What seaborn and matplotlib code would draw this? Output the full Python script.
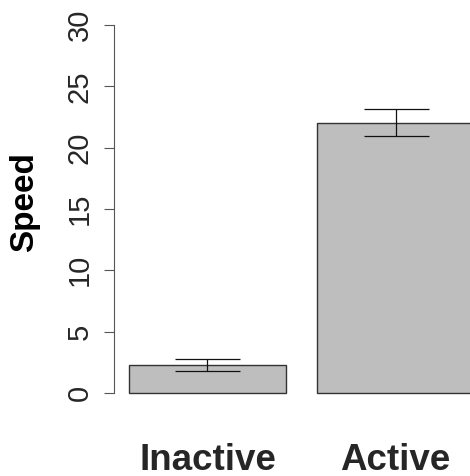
import matplotlib
matplotlib.use("Agg")
import matplotlib.pyplot as plt
import seaborn as sns
import pandas as pd

categories = ["Inactive", "Active"]
speed_mean = [2.28, 22.05]
speed_err = [0.49, 1.1]
y_ticks = [0, 5, 10, 15, 20, 25, 30]

sns.set_style("white")
plt.rcParams["font.family"] = ["Liberation Sans", "DejaVu Sans"]

W, H = 470, 476
fig = plt.figure(figsize=(W / 100, H / 100), dpi=100)
left_px, right_px = 114, 470
top_px, bot_px = 12.7, 405.3
ax = fig.add_axes([left_px / W, 1 - bot_px / H, (right_px - left_px) / W, (bot_px - top_px) / H])

df = pd.DataFrame({"cat": categories, "speed": speed_mean})
sns.barplot(data=df, x="cat", y="speed", order=categories, color="#BEBEBE",
            width=0.835, edgecolor="#333333", linewidth=1.0, saturation=1, ax=ax)
for p in ax.patches:
    p.set_clip_on(False)

ax.errorbar(range(len(categories)), speed_mean, yerr=speed_err, fmt="none",
            ecolor="#111111", elinewidth=0.9, capsize=23.4, capthick=0.9, clip_on=False)

ax.set_xlim(-0.497, 1.396)
ax.set_ylim(-1.0, 31.0)
ax.set_yticks(y_ticks)
ax.set_yticklabels([str(t) for t in y_ticks], rotation=90, va="center", fontsize=21)
ax.tick_params(axis="y", length=7.5, width=0.8, color="#555555", pad=7, direction="out", left=True)
ax.tick_params(axis="x", length=0, pad=27)
for lbl in ax.get_xticklabels():
    lbl.set_fontsize(26.5)
    lbl.set_fontweight("bold")
ax.set_xlabel("")
ax.set_ylabel("")

for s in ["top", "right", "bottom"]:
    ax.spines[s].set_visible(False)
ax.spines["left"].set_bounds(0, 30)
ax.spines["left"].set_color("#555555")
ax.spines["left"].set_linewidth(0.8)

fig.text(25 / W, 1 - 202 / H, "Speed", rotation=90, ha="center", va="center",
         fontsize=24, fontweight="bold", color="black")

fig.savefig("out.png", dpi=100)
